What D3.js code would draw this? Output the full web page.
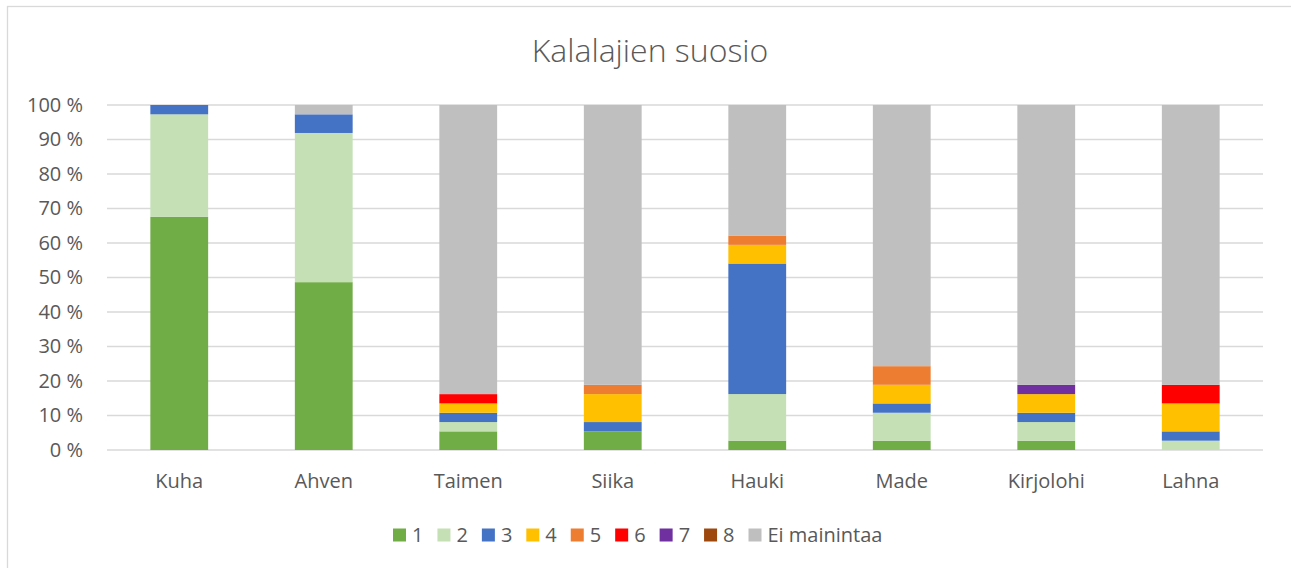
<!DOCTYPE html>
<html>
<head>
<meta charset="utf-8">
<script src="https://cdn.jsdelivr.net/npm/d3@7"></script>
<style>
    body { margin: 0; background: #fff; }
    text { font-family: "Open Sans", "Noto Sans", sans-serif; fill: #595959; }
</style>
</head>
<body>
<svg id="chart"></svg>
<script>
// fish species (x categories)
let species = ["Kuha", "Ahven", "Taimen", "Siika", "Hauki", "Made", "Kirjolohi", "Lahna"];
// ranking series, in stacking order
let seriesNames = ["1", "2", "3", "4", "5", "6", "7", "8", "Ei mainintaa"];
let seriesColors = ["#70AD47", "#C5E0B4", "#4472C4", "#FFC000", "#ED7D31", "#FF0000", "#7030A0", "#9E480E", "#BFBFBF"];

// share of answers (%) per series, one value per species
let s1 = [67.6, 48.6, 5.4, 5.4, 2.7, 2.7, 2.7, 0];
let s2 = [29.7, 43.2, 2.7, 0, 13.5, 8.1, 5.4, 2.7];
let s3 = [2.7, 5.4, 2.7, 2.7, 37.8, 2.7, 2.7, 2.7];
let s4 = [0, 0, 2.7, 8.1, 5.4, 5.4, 5.4, 8.1];
let s5 = [0, 0, 0, 2.7, 2.7, 5.4, 0, 0];
let s6 = [0, 0, 2.7, 0, 0, 0, 0, 5.4];
let s7 = [0, 0, 0, 0, 0, 0, 2.7, 0];
let s8 = [0, 0, 0, 0, 0, 0, 0, 0];
let sEi = [0, 2.7, 83.8, 81.1, 37.8, 75.7, 81.1, 81.1];

let yTicks = [0, 0.1, 0.2, 0.3, 0.4, 0.5, 0.6, 0.7, 0.8, 0.9, 1];

let width = 1291;
let height = 568;
let plot = {left: 107, right: 1263, top: 105, bottom: 450};

let allSeries = [s1, s2, s3, s4, s5, s6, s7, s8, sEi];
let table = species.map(function (name, i) {
    let row = {species: name};
    seriesNames.forEach(function (s, j) { row[s] = allSeries[j][i]; });
    return row;
});

let stacked = d3.stack()
    .keys(seriesNames)
    .offset(d3.stackOffsetExpand)(table);

let svg = d3.select("#chart")
    .attr("width", width)
    .attr("height", height);

// chart area border (only top/left visible in the frame)
svg.append("rect")
    .attr("x", 7.5).attr("y", 6.5)
    .attr("width", width + 20).attr("height", height + 20)
    .attr("fill", "#fff")
    .attr("stroke", "#d9d9d9")
    .attr("stroke-width", 1.3);

let xScale = d3.scaleBand()
    .domain(species)
    .range([plot.left, plot.right])
    .paddingInner(0.6)
    .paddingOuter(0.3);

let yScale = d3.scaleLinear()
    .domain([0, 1])
    .range([plot.bottom, plot.top]);

//title
svg.append("text")
    .attr("x", 650)
    .attr("y", 62)
    .attr("text-anchor", "middle")
    .style("font-size", "32px")
    .style("font-weight", 300)
    .text("Kalalajien suosio");

//gridlines
svg.append("g")
    .selectAll("line")
    .data(yTicks)
    .enter().append("line")
    .attr("x1", plot.left).attr("x2", plot.right)
    .attr("y1", d => yScale(d)).attr("y2", d => yScale(d))
    .attr("stroke", "#d9d9d9")
    .attr("stroke-width", 1.3);

//y axis labels
let yAxis = d3.axisLeft(yScale)
    .tickValues(yTicks)
    .tickSize(0)
    .tickPadding(24)
    .tickFormat(d => Math.round(d * 100) + "\u00a0%");
let yg = svg.append("g")
    .attr("transform", "translate(" + plot.left + ",0)")
    .call(yAxis);
yg.select(".domain").remove();
yg.selectAll("text")
    .style("font-size", "20px")
    .attr("fill", "#595959");

//bars
let layers = svg.append("g")
    .selectAll("g")
    .data(stacked)
    .enter().append("g")
    .attr("fill", (d, i) => seriesColors[i]);

layers.selectAll("rect")
    .data(d => d)
    .enter().append("rect")
    .attr("x", d => xScale(d.data.species))
    .attr("y", d => yScale(d[1]))
    .attr("width", xScale.bandwidth())
    .attr("height", d => yScale(d[0]) - yScale(d[1]));

//x axis
let xAxis = d3.axisBottom(xScale)
    .tickSize(0)
    .tickPadding(24);
let xg = svg.append("g")
    .attr("transform", "translate(0," + plot.bottom + ")")
    .call(xAxis);
xg.select(".domain").remove();
xg.selectAll("text")
    .style("font-size", "20px")
    .attr("fill", "#595959");

//legend
let legend = svg.append("g")
    .attr("transform", "translate(393,535)");
let lx = 0;
seriesNames.forEach(function (name, i) {
    let item = legend.append("g")
        .attr("transform", "translate(" + lx + ",0)");
    item.append("rect")
        .attr("x", 0).attr("y", -6.5)
        .attr("width", 13).attr("height", 13)
        .attr("fill", seriesColors[i]);
    let t = item.append("text")
        .attr("x", 19)
        .attr("dy", "0.35em")
        .style("font-size", "20px")
        .text(name);
    lx += 19 + t.node().getComputedTextLength() + 14;
});
</script>
</body>
</html>
